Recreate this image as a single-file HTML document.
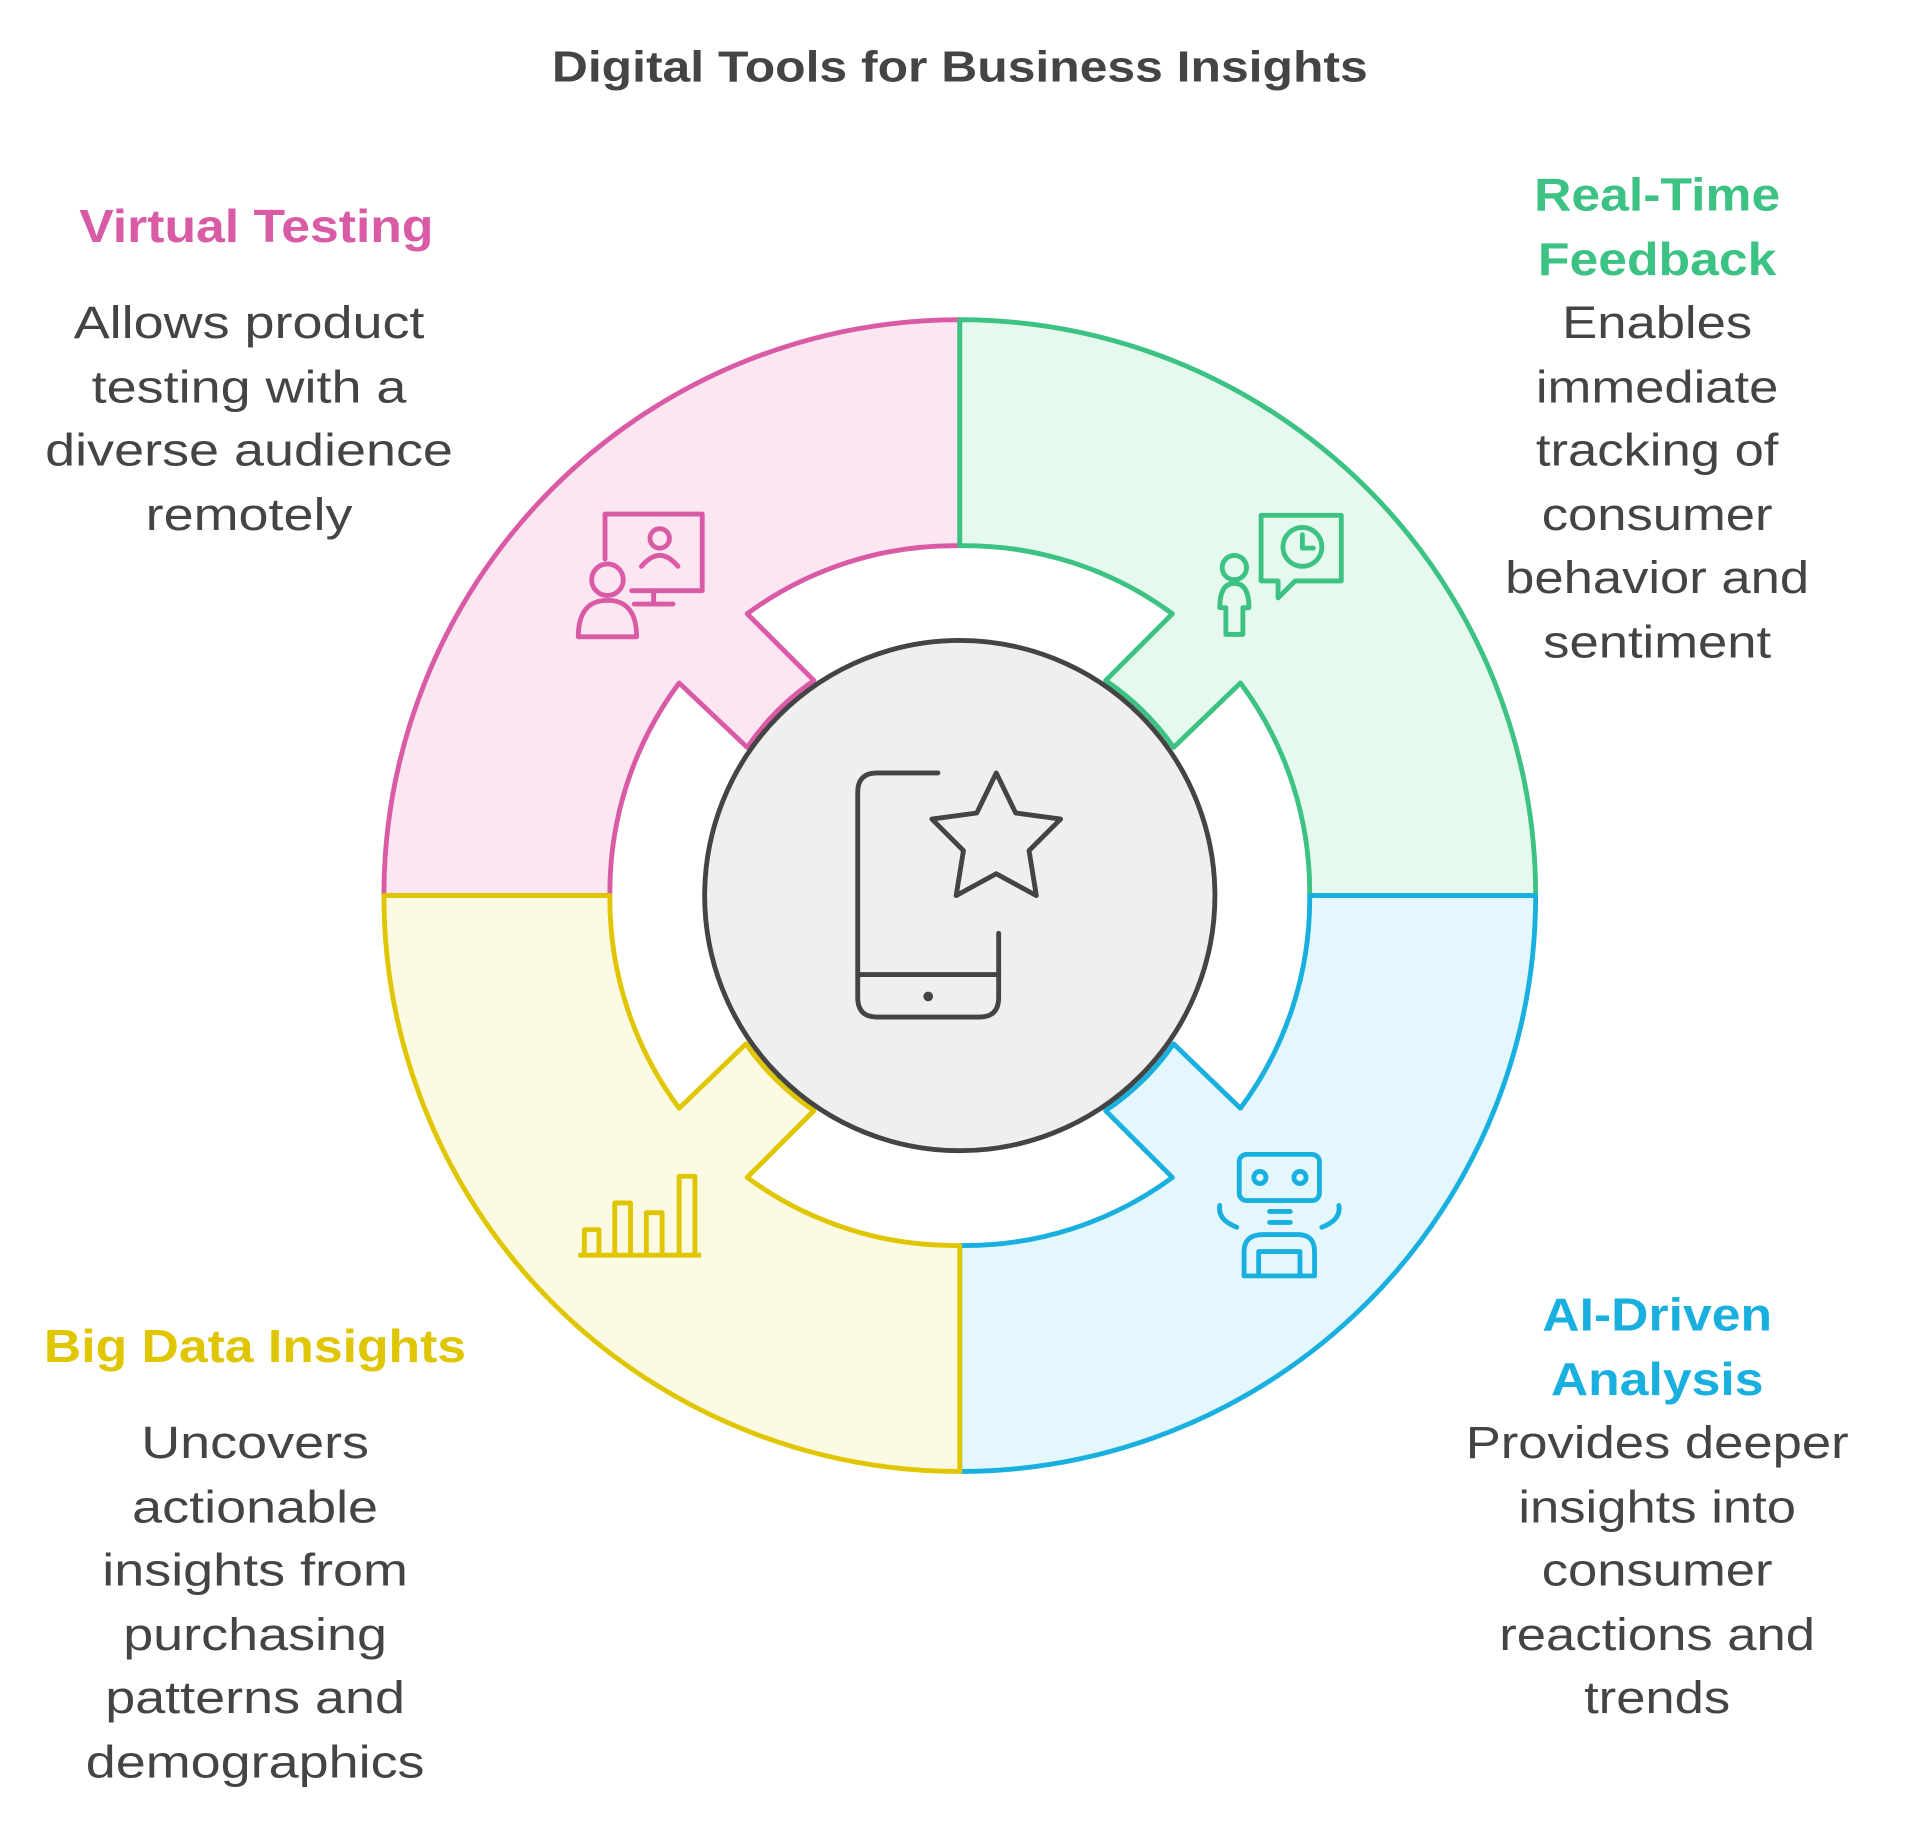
<!DOCTYPE html>
<html><head><meta charset="utf-8"><style>
html,body{margin:0;padding:0;background:#fff;}
svg{display:block;}
text{font-family:"Liberation Sans",sans-serif;}
</style></head><body>
<svg width="1905" height="1824" viewBox="0 0 1568 1501" xmlns="http://www.w3.org/2000/svg">
<g transform="translate(790 0) scale(1.14 1) translate(-790 0)">
<text x="790" y="67" text-anchor="middle" font-size="36" font-weight="bold" fill="#444">Digital Tools for Business Insights</text>
</g>

<path d="M316 737 A474 474 0 0 1 790 263 L790 449 A288 288 0 0 0 615 505 L670 560 A212 212 0 0 0 615 615 L559 562 A288 288 0 0 0 502 737 Z" fill="#fce6f2" stroke="#d95ba5" stroke-width="4" stroke-linejoin="round"/>
<path d="M790 263 A474 474 0 0 1 1264 737 L1078 737 A288 288 0 0 0 1021 562 L966 615 A212 212 0 0 0 910 560 L965 505 A288 288 0 0 0 790 449 Z" fill="#e6f9ef" stroke="#3cc283" stroke-width="4" stroke-linejoin="round"/>
<path d="M1264 737 A474 474 0 0 1 790 1211 L790 1025 A288 288 0 0 0 965 969 L910 914 A212 212 0 0 0 966 859 L1021 912 A288 288 0 0 0 1078 737 Z" fill="#e3f7fd" stroke="#19b0e0" stroke-width="4" stroke-linejoin="round"/>
<path d="M790 1211 A474 474 0 0 1 316 737 L502 737 A288 288 0 0 0 559 912 L614 859 A212 212 0 0 0 670 914 L615 969 A288 288 0 0 0 790 1025 Z" fill="#fdfae4" stroke="#e0c600" stroke-width="4" stroke-linejoin="round"/>

<circle cx="790" cy="737" r="210" fill="#efefef" stroke="#444" stroke-width="4"/>
<g fill="none" stroke="#444" stroke-width="4" stroke-linecap="round" stroke-linejoin="round">
<path d="M772 636 H722 Q706 636 706 652 V821 Q706 837 722 837 H806 Q822 837 822 821 V768"/>
<path d="M706 802 H822"/>
<path d="M820 636 L836 669 L873 674 L847 700 L853 737 L820 719 L787 737 L793 700 L767 674 L804 669 Z"/>
</g>
<circle cx="764" cy="820" r="4" fill="#444"/>

<g fill="none" stroke="#d95ba5" stroke-width="4" stroke-linecap="round" stroke-linejoin="round">
<path d="M498 460 V423 H578 V486 H520"/>
<path d="M538 486 V497 M522 497 H554"/>
<circle cx="543" cy="443" r="8"/><path d="M528 466 Q543 448 558 466"/>
<circle cx="500" cy="477" r="13"/><path d="M476 524 Q476 494 500 494 Q524 494 524 524 Z"/>
</g>
<g fill="none" stroke="#3cc283" stroke-width="4" stroke-linecap="round" stroke-linejoin="round">
<path d="M1038 424 H1104 V478 H1066 L1052 492 V478 H1038 Z"/>
<circle cx="1072" cy="450" r="16"/><path d="M1072 440 V451 H1081"/>
<circle cx="1016" cy="467" r="10"/><path d="M1004 500 Q1004 480 1016 480 Q1028 480 1028 500 H1023 V522 H1009 V500 Z"/>
</g>
<g fill="none" stroke="#19b0e0" stroke-width="4" stroke-linecap="round" stroke-linejoin="round">
<rect x="1020" y="950" width="66" height="38" rx="6"/>
<circle cx="1037" cy="969" r="5"/><circle cx="1070" cy="969" r="5"/>
<path d="M1045 997 H1062 M1045 1006 H1062"/>
<path d="M1024 1050 V1030 Q1024 1016 1040 1016 H1068 Q1082 1016 1082 1030 V1050 Z"/>
<path d="M1036 1050 V1030 H1070 V1050"/>
<path d="M1004 992 Q1002 1004 1018 1010 M1102 992 Q1104 1004 1088 1010"/>
</g>
<g fill="none" stroke="#e0c600" stroke-width="4" stroke-linejoin="round">
<path d="M476 1033 H577"/>
<path d="M481 1033 V1012 H493 V1033 M506 1033 V990 H519 V1033 M532 1033 V998 H545 V1033 M559 1033 V968 H572 V1033"/>
</g>

<g font-size="38" font-weight="bold" text-anchor="middle">
<g transform="translate(211 0) scale(1.12 1) translate(-211 0)">
<text x="211" y="199" fill="#d95ba5">Virtual Testing</text>
<text x="210" y="1121" fill="#e0c600">Big Data Insights</text>
</g>
<g transform="translate(1364 0) scale(1.12 1) translate(-1364 0)">
<text x="1364" y="173" fill="#3cc283">Real-Time</text>
<text x="1364" y="226" fill="#3cc283">Feedback</text>
<text x="1364" y="1095" fill="#19b0e0">AI-Driven</text>
<text x="1364" y="1148" fill="#19b0e0">Analysis</text>
</g>
</g>
<g font-size="37" fill="#444" text-anchor="middle">
<g transform="translate(205 0) scale(1.2 1) translate(-205 0)">
<text x="205" y="278">Allows product</text>
<text x="205" y="331">testing with a</text>
<text x="205" y="383">diverse audience</text>
<text x="205" y="436">remotely</text>
</g>
<g transform="translate(210 0) scale(1.2 1) translate(-210 0)">
<text x="210" y="1200">Uncovers</text>
<text x="210" y="1253">actionable</text>
<text x="210" y="1305">insights from</text>
<text x="210" y="1358">purchasing</text>
<text x="210" y="1410">patterns and</text>
<text x="210" y="1463">demographics</text>
</g>
<g transform="translate(1364 0) scale(1.17 1) translate(-1364 0)">
<text x="1364" y="278">Enables</text>
<text x="1364" y="331">immediate</text>
<text x="1364" y="383">tracking of</text>
<text x="1364" y="436">consumer</text>
<text x="1364" y="488">behavior and</text>
<text x="1364" y="541">sentiment</text>
<text x="1364" y="1200">Provides deeper</text>
<text x="1364" y="1253">insights into</text>
<text x="1364" y="1305">consumer</text>
<text x="1364" y="1358">reactions and</text>
<text x="1364" y="1410">trends</text>
</g>
</g>
</svg>
</body></html>
